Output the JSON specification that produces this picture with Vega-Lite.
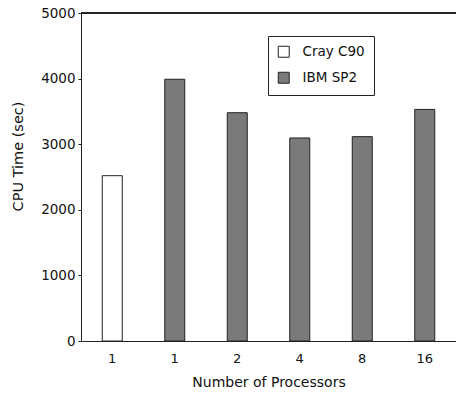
{
  "$schema": "https://vega.github.io/schema/vega-lite/v6.json",
  "width": 375,
  "height": 328,
  "autosize": {"type": "none"},
  "padding": {"left": 81, "top": 13, "right": 0, "bottom": 54},
  "background": "white",
  "config": {
    "view": {"stroke": null},
    "font": "DejaVu Sans",
    "axis": {"labelFont": "DejaVu Sans", "titleFont": "DejaVu Sans", "labelColor": "#111", "titleColor": "#111", "domainColor": "#222", "tickColor": "#222", "titleFontWeight": "normal", "grid": false}
  },
  "data": {
    "values": [
      {"cat": "C1", "system": "Cray C90", "time": 2520},
      {"cat": "1", "system": "IBM SP2", "time": 3990},
      {"cat": "2", "system": "IBM SP2", "time": 3480},
      {"cat": "4", "system": "IBM SP2", "time": 3095},
      {"cat": "8", "system": "IBM SP2", "time": 3115},
      {"cat": "16", "system": "IBM SP2", "time": 3530}
    ]
  },
  "layer": [
    {
      "mark": {"type": "bar", "stroke": "#222", "strokeWidth": 1},
      "encoding": {
        "x": {
          "field": "cat", "type": "nominal", "sort": ["C1", "1", "2", "4", "8", "16"],
          "scale": {"paddingInner": 0.68, "paddingOuter": 0.34},
          "axis": {"title": "Number of Processors", "labelAngle": 0, "labelExpr": "datum.value == 'C1' ? '1' : datum.value", "labelFontSize": 13, "titleFontSize": 14, "tickSize": 0, "labelPadding": 11, "titlePadding": 10}
        },
        "y": {
          "field": "time", "type": "quantitative",
          "scale": {"domain": [0, 5000], "nice": false},
          "axis": {"title": "CPU Time (sec)", "format": "d", "values": [0, 1000, 2000, 3000, 4000, 5000], "labelFontSize": 13.5, "titleFontSize": 14.5, "tickSize": 3, "labelPadding": 3, "titlePadding": 15, "titleY": 143}
        },
        "color": {
          "field": "system", "type": "nominal",
          "scale": {"domain": ["Cray C90", "IBM SP2"], "range": ["#ffffff", "#7a7a7a"]},
          "legend": {"title": null, "orient": "none", "legendX": 187, "legendY": 23, "strokeColor": "#222", "padding": 9, "symbolType": "square", "symbolSize": 120, "symbolStrokeColor": "#222", "symbolStrokeWidth": 1, "labelFontSize": 13.5, "labelFont": "DejaVu Sans", "labelColor": "#111", "rowPadding": 10, "labelOffset": 12}
        }
      }
    },
    {
      "mark": {"type": "rule", "color": "#222", "strokeWidth": 1},
      "encoding": {"y": {"datum": 5000}}
    }
  ]
}
